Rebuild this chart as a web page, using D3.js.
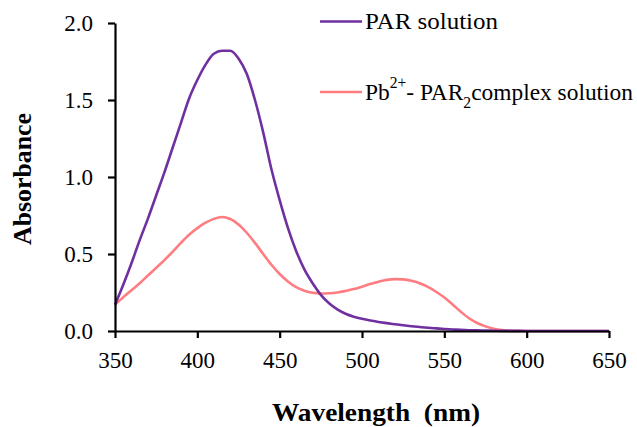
<!DOCTYPE html>
<html><head><meta charset="utf-8"><script src="https://cdn.jsdelivr.net/npm/d3@7"></script></head>
<body style="margin:0">
<svg id="s" width="637" height="427" font-family="Times New Roman"></svg>
<script>
const wavelengths = [350,355,360,365,370,375,380,385,390,395,400,405,410,415,420,425,430,435,440,445,450,455,460,465,470,475,480,485,490,495,500,505,510,515,520,525,530,535,540,545,550,555,560,565,570,575,580,585,590,600,610,620,630,640,650];
const parSolution = [0.17,0.30,0.44,0.59,0.73,0.88,1.03,1.19,1.35,1.51,1.63,1.73,1.80,1.82,1.82,1.77,1.67,1.50,1.29,1.05,0.85,0.67,0.52,0.40,0.31,0.235,0.18,0.14,0.112,0.093,0.079,0.068,0.059,0.051,0.044,0.037,0.031,0.026,0.021,0.017,0.013,0.010,0.007,0.005,0.004,0.003,0.002,0.001,0.001,0,0,0,0,0,0];
const pbParComplex = [0.17,0.22,0.265,0.31,0.36,0.41,0.46,0.515,0.572,0.625,0.668,0.703,0.728,0.74,0.727,0.692,0.638,0.572,0.50,0.43,0.37,0.322,0.285,0.262,0.248,0.243,0.245,0.25,0.26,0.272,0.288,0.305,0.32,0.332,0.337,0.335,0.326,0.31,0.287,0.255,0.217,0.172,0.125,0.083,0.052,0.03,0.015,0.006,0.001,0,0,0,0,0,0];
const xTicks = [350,400,450,500,550,600,650];
const yTicks = [0,0.5,1.0,1.5,2.0];
const seriesNames = ["PAR solution", "Pb2+- PAR2complex solution"];
const seriesColors = ["#7030A0", "#FF7C80"];

const svg = d3.select("#s");
const setFont = (sel, size, bold) => {
  sel.attr("font-family", "Times New Roman").attr("font-size", size)
     .style("font-family", "Times New Roman", "important").style("font-size", size + "px", "important");
  if (bold) sel.attr("font-weight", "bold").style("font-weight", "bold");
  return sel;
};
const x = d3.scaleLinear().domain([350, 650]).range([115, 609]);
const y = d3.scaleLinear().domain([0, 2]).range([331, 23]);

const line = d3.line().x((d, i) => x(wavelengths[i])).y(d => y(d)).curve(d3.curveMonotoneX);

svg.append("path").datum(pbParComplex).attr("d", line).attr("fill", "none")
  .attr("stroke", seriesColors[1]).attr("stroke-width", 2.6);
svg.append("path").datum(parSolution).attr("d", line).attr("fill", "none")
  .attr("stroke", seriesColors[0]).attr("stroke-width", 2.6);

// X axis
const gx = svg.append("g").attr("transform", `translate(0,${y(0)})`)
  .call(d3.axisBottom(x).tickValues(xTicks).tickFormat(d3.format("d")).tickSize(7).tickPadding(14).tickSizeOuter(0));
// Y axis
const gy = svg.append("g").attr("transform", `translate(${x(350)},0)`)
  .call(d3.axisLeft(y).tickValues(yTicks).tickFormat(d3.format(".1f")).tickSize(7).tickPadding(15).tickSizeOuter(0));

[gx, gy].forEach(g => {
  setFont(g, 23);
  g.select(".domain").attr("stroke", "#000").attr("stroke-width", 2.2);
  g.selectAll(".tick line").attr("stroke", "#000").attr("stroke-width", 2.2);
  setFont(g.selectAll(".tick text"), 23).attr("fill", "#000");
});

// Axis titles
setFont(svg.append("text"), 26, true).attr("x", 376).attr("y", 421).attr("text-anchor", "middle")
  .attr("textLength", 208).attr("lengthAdjust", "spacingAndGlyphs")
  .text("Wavelength\u00A0\u00A0(nm)");
setFont(svg.append("text"), 25, true).attr("transform", "translate(31,179) rotate(-90)").attr("text-anchor", "middle")
  .attr("textLength", 132).attr("lengthAdjust", "spacingAndGlyphs").text("Absorbance");

// Legend
svg.append("line").attr("x1", 320).attr("x2", 362).attr("y1", 21.5).attr("y2", 21.5)
  .attr("stroke", seriesColors[0]).attr("stroke-width", 2.6);
setFont(svg.append("text"), 24).attr("x", 365).attr("y", 29)
  .attr("textLength", 133).attr("lengthAdjust", "spacingAndGlyphs").text(seriesNames[0]);

svg.append("line").attr("x1", 320).attr("x2", 362).attr("y1", 92).attr("y2", 92)
  .attr("stroke", seriesColors[1]).attr("stroke-width", 2.6);
const t2 = setFont(svg.append("text"), 24).attr("x", 365).attr("y", 100)
  .attr("textLength", 268).attr("lengthAdjust", "spacingAndGlyphs");
t2.append("tspan").text("Pb");
t2.append("tspan").attr("font-size", 16).style("font-size", "16px").attr("dy", -12).text("2+");
t2.append("tspan").attr("dy", 12).text("-\u00A0PAR");
t2.append("tspan").attr("font-size", 16).style("font-size", "16px").attr("dy", 8).text("2");
t2.append("tspan").attr("dy", -8).text("complex solution");
</script>
</body>
</html>
